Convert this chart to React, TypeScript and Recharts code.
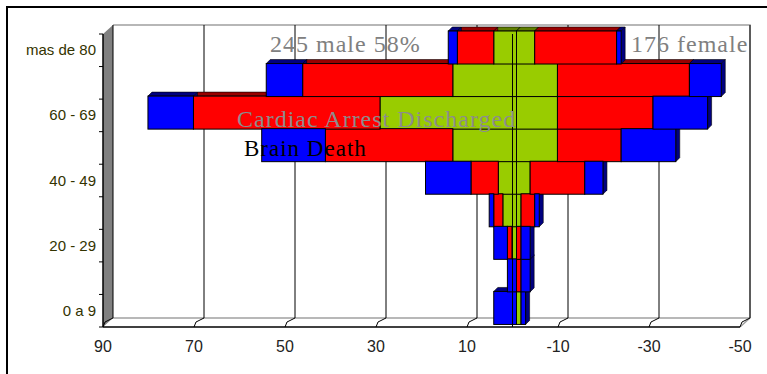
import React from "react";
import { Bar, BarChart, CartesianGrid, ReferenceLine, XAxis, YAxis } from "recharts";

// bottom row first, the axis is reversed so "mas de 80" sits on top
const categories = ["0 a 9", "10 - 19", "20 - 29", "30 - 39", "40 - 49", "50 - 59", "60 - 69", "70 - 79", "mas de 80"];

const maleDischarged = [0, 0, 1, 3, 4, 14, 30, 14, 5];
const maleCardiac = [0, 0, 1, 2, 6, 28, 41, 33, 8];
const maleBrain = [5, 2, 3, 1, 10, 14, 10, 8, 2];

const femaleDischarged = [1, 0, 0, 1, 3, 9, 9, 9, 4];
const femaleCardiac = [0, 1, 1, 3, 12, 14, 21, 29, 18];
const femaleBrain = [1, 2, 2, 1, 4, 12, 12, 7, 1];

const xTicks = [90, 70, 50, 30, 10, -10, -30, -50];
const gridTicks = [70, 50, 30, 10, -10, -30];

const data = categories.map((cat, i) => ({
  cat,
  mDis: maleDischarged[i],
  mCar: maleCardiac[i],
  mBra: maleBrain[i],
  fDis: -femaleDischarged[i],
  fCar: -femaleCardiac[i],
  fBra: -femaleBrain[i],
}));

const W = 767;
const H = 374;

const GREEN = "#99cc00";
const RED = "#ff0000";
const BLUE = "#0000ff";
const dark: Record<string, string> = { [GREEN]: "#5f7f00", [RED]: "#990000", [BLUE]: "#000080" };

const series = [
  { key: "mDis", color: GREEN },
  { key: "mCar", color: RED },
  { key: "mBra", color: BLUE },
  { key: "fDis", color: GREEN },
  { key: "fCar", color: RED },
  { key: "fBra", color: BLUE },
];

// planes: front (axes), bars, back wall
const FRONT = { left: 103, right: 740, top: 34, bottom: 327 };
const BARS = { left: 107, right: 744, top: 31, bottom: 324 };
const BACK = { left: 113, right: 750, top: 25, bottom: 318 };
const DEPTH = 4;

const box = (p: any) => {
  const x = Math.min(p.x, p.x + p.width);
  const y = Math.min(p.y, p.y + p.height);
  return { x, y, w: Math.abs(p.width), h: Math.abs(p.height) };
};

const faceShape = (color: string) => (p: any) => {
  const { x, y, w, h } = box(p);
  if (!w) return <g />;
  return <rect x={x} y={y} width={w} height={h} fill={color} stroke="#000" strokeWidth={1} />;
};

const depthShape = (color: string) => (p: any) => {
  const { x, y, w, h } = box(p);
  if (!w) return <g />;
  const d = DEPTH;
  const c = dark[color];
  return (
    <g>
      <polygon
        points={`${x},${y} ${x + d},${y - d} ${x + w + d},${y - d} ${x + w},${y}`}
        fill={c}
        stroke="#000"
        strokeWidth={0.6}
      />
      <polygon
        points={`${x + w},${y} ${x + w + d},${y - d} ${x + w + d},${y + h - d} ${x + w},${y + h}`}
        fill={c}
        stroke="#000"
        strokeWidth={0.6}
      />
    </g>
  );
};

const noShape = () => <g />;

const tickFont = "'Liberation Sans Narrow', 'Arial Narrow', 'Liberation Sans', sans-serif";
const serif = "'Liberation Serif', 'Times New Roman', serif";

function XTick(props: any) {
  const { x, payload } = props;
  return (
    <g>
      <path
        d={`M${x},${FRONT.bottom} L${x + 2},${FRONT.bottom - 5} L${x + 10},${FRONT.bottom - 9}`}
        stroke="#000"
        fill="none"
        strokeWidth={1}
      />
      <text x={x} y={352} textAnchor="middle" fontSize={16} fontFamily={tickFont} fill="#222">
        {payload.value}
      </text>
    </g>
  );
}

function YTick(props: any) {
  const { y, payload, index } = props;
  const band = (FRONT.bottom - FRONT.top) / categories.length;
  return (
    <g>
      <line x1={FRONT.left - 4} x2={FRONT.left} y1={y - band / 2} y2={y - band / 2} stroke="#000" />
      {index === 0 && (
        <line x1={FRONT.left - 4} x2={FRONT.left} y1={y + band / 2} y2={y + band / 2} stroke="#000" />
      )}
      {index % 2 === 0 && (
        <text x={FRONT.left - 7} y={y + 5} textAnchor="end" fontSize={15} fontFamily={tickFont} fill="#333300">
          {payload.value}
        </text>
      )}
    </g>
  );
}

const layer: React.CSSProperties = { position: "absolute", left: 0, top: 0 };

const margins = (p: typeof FRONT, axisW = 0, axisH = 0) => ({
  left: p.left - axisW,
  right: W - p.right,
  top: p.top,
  bottom: H - p.bottom - axisH,
});

function BarsLayer({ depth }: { depth: boolean }) {
  return (
    <div style={layer}>
      <BarChart
        width={W}
        height={H}
        data={data}
        layout="vertical"
        stackOffset="sign"
        barCategoryGap={0}
        margin={margins(BARS)}
      >
        <XAxis type="number" domain={[-50, 90]} reversed hide />
        <YAxis type="category" dataKey="cat" reversed hide />
        {series.map((s) => (
          <Bar
            key={s.key}
            dataKey={s.key}
            stackId="a"
            fill={s.color}
            isAnimationActive={false}
            shape={depth ? depthShape(s.color) : faceShape(s.color)}
          />
        ))}
      </BarChart>
    </div>
  );
}

export default function App() {
  return (
    <div style={{ position: "absolute", left: 0, top: 0, width: W, height: H, overflow: "hidden", background: "#fff" }}>
      <div style={{ position: "absolute", left: 6, top: 6, width: 820, height: 420, border: "2px solid #000" }} />

      {/* walls and floor */}
      <svg width={W} height={H} style={layer}>
        <polygon
          points={`${FRONT.left},${FRONT.top} ${BACK.left},${BACK.top} ${BACK.left},${BACK.bottom} ${FRONT.left},${FRONT.bottom}`}
          fill="#808080"
        />
        <polyline
          points={`${BACK.left},${BACK.top} ${BACK.right},${BACK.top} ${BACK.right},${BACK.bottom} ${FRONT.right},${FRONT.bottom}`}
          fill="none"
          stroke="#a0a0a0"
          strokeWidth={1.5}
        />
        <line x1={BACK.left} x2={BACK.right} y1={BACK.bottom} y2={BACK.bottom} stroke="#a0a0a0" strokeWidth={1.5} />
      </svg>

      {/* back wall gridlines */}
      <div style={layer}>
        <BarChart width={W} height={H} data={data} layout="vertical" margin={margins(BACK)}>
          <CartesianGrid horizontal={false} stroke="#000" strokeWidth={1} />
          <XAxis type="number" domain={[-50, 90]} reversed ticks={gridTicks} interval={0} hide />
          <YAxis type="category" dataKey="cat" reversed hide />
          <Bar dataKey="mDis" fill="none" isAnimationActive={false} shape={noShape} />
        </BarChart>
      </div>

      <BarsLayer depth />
      <BarsLayer depth={false} />

      {/* front axes */}
      <div style={layer}>
        <BarChart width={W} height={H} data={data} layout="vertical" margin={margins(FRONT, 100, 30)}>
          <XAxis
            type="number"
            domain={[-50, 90]}
            reversed
            ticks={xTicks}
            interval={0}
            height={30}
            tickLine={false}
            axisLine={{ stroke: "#000", strokeWidth: 1.5 }}
            tick={<XTick />}
          />
          <YAxis
            type="category"
            dataKey="cat"
            reversed
            width={100}
            interval={0}
            tickLine={false}
            axisLine={{ stroke: "#000", strokeWidth: 1.5 }}
            tick={<YTick />}
          />
          <Bar dataKey="mDis" fill="none" isAnimationActive={false} shape={noShape} />
          <ReferenceLine x={0} stroke="#000" strokeWidth={1} />
        </BarChart>
      </div>

      <svg width={W} height={H} style={layer}>
        <text x={270} y={52} fontSize={24} letterSpacing={1} fontFamily={serif} fill="#808080">
          245 male 58%
        </text>
        <text x={631} y={52} fontSize={24} letterSpacing={1} fontFamily={serif} fill="#808080">
          176 female
        </text>
        <text x={237} y={127} fontSize={24} letterSpacing={1} fontFamily={serif} fill="#8c8c8c">
          Cardiac Arrest Discharged
        </text>
        <text x={244} y={156} fontSize={23} letterSpacing={1} fontFamily={serif} fill="#000">
          Brain Death
        </text>
      </svg>
    </div>
  );
}
